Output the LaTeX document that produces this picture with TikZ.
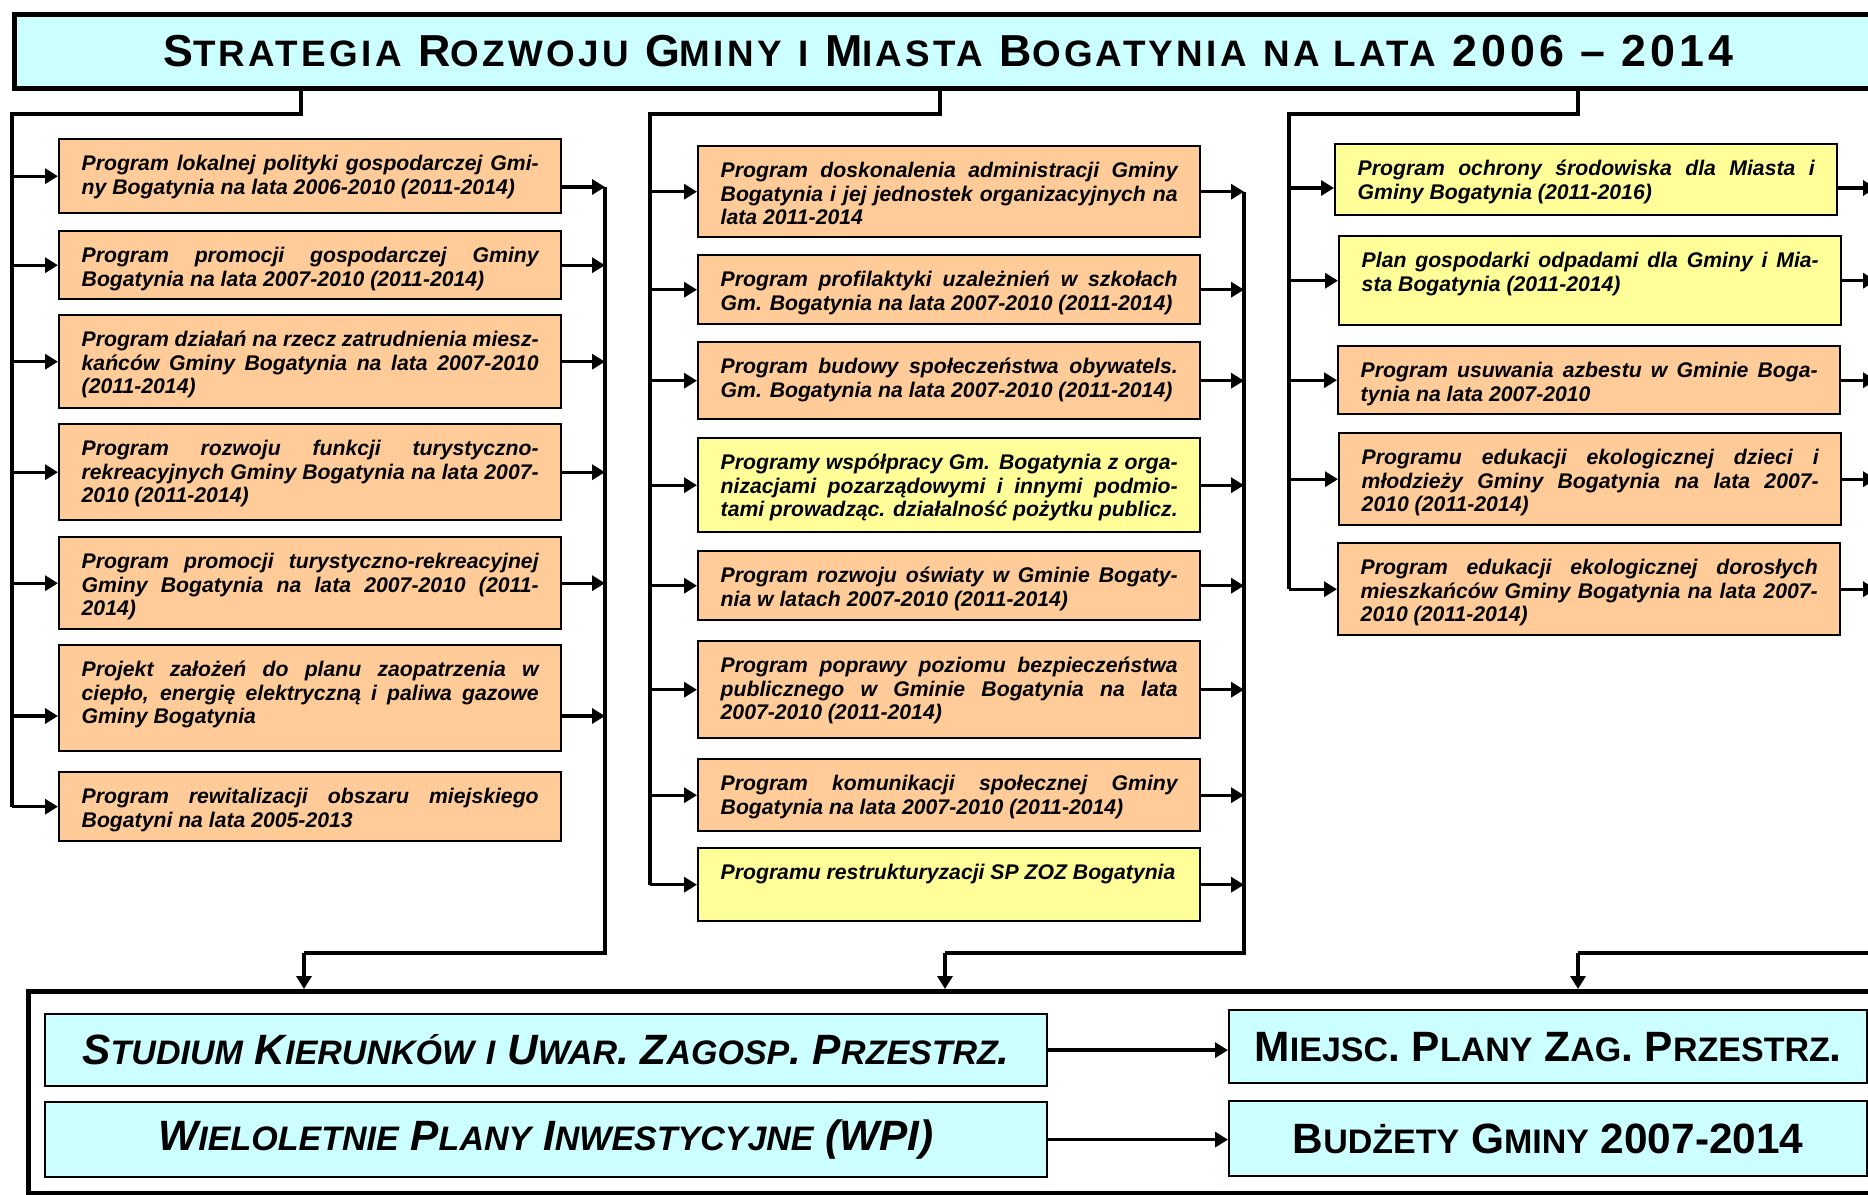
\documentclass[tikz,border=0pt]{standalone}
\usepackage{fontspec}
\setmainfont{Liberation Sans}
\newfontfamily\titlefont[LetterSpace=9]{Liberation Sans}
\usetikzlibrary{arrows.meta}

\definecolor{orangebox}{HTML}{FFCC99}
\definecolor{yellowbox}{HTML}{FFFF99}
\definecolor{cyanbox}{HTML}{CCFFFF}

\newcommand{\progfont}{\fontsize{10.6pt}{11.9pt}\selectfont\bfseries\itshape\tolerance=10000\hbadness=10000\relax}
\newcommand{\tsc}[1]{{\fontsize{18.4pt}{20pt}\selectfont #1}}
\newcommand{\bsc}[1]{{\fontsize{17pt}{20pt}\selectfont #1}}

\tikzset{
  prog/.style={draw, line width=1.2pt, fill=orangebox, anchor=north west, inner xsep=11.25pt, inner ysep=0pt, text width=228.5pt, align=justify, font=\progfont, text height=15.5pt},
  progy/.style={prog, fill=yellowbox},
  plan/.style={draw, line width=1.1pt, fill=cyanbox, anchor=north west, inner sep=0pt, font=\fontsize{21.2pt}{24pt}\selectfont\bfseries},
  bus/.style={line width=1.7pt},
  arr/.style={line width=1.7pt, -{Triangle[length=6.5pt,width=7.5pt]}},
}

\begin{document}
\begin{tikzpicture}[x=0.5pt,y=0.5pt,yscale=-1,xscale=1]
\useasboundingbox (0,0) rectangle (1868,1194);
\clip (0,0) rectangle (1868,1194);

% Title
\node[draw, line width=2.5pt, fill=cyanbox, anchor=north west, minimum width=934pt, minimum height=37pt, inner sep=0pt, font=\titlefont\fontsize{22.4pt}{24pt}\selectfont\bfseries] (title) at (12,12) {S\tsc{TRATEGIA} R\tsc{OZWOJU} G\tsc{MINY} \tsc{I} M\tsc{IASTA} B\tsc{OGATYNIA} \tsc{NA LATA} 2006 – 2014};

% Left column
\node[prog, text depth=21.5pt] (l1) at (58,138) {Program lokalnej polityki gospodarczej Gmi-\linebreak ny Bogatynia na lata 2006-2010 (2011-2014)};
\node[prog, text depth=18.5pt] (l2) at (58,230) {Program promocji gospodarczej Gminy\linebreak Bogatynia na lata 2007-2010 (2011-2014)};
\node[prog, text depth=31pt] (l3) at (58,314) {Program działań na rzecz zatrudnienia miesz-\linebreak kańców Gminy Bogatynia na lata 2007-2010\linebreak (2011-2014)};
\node[prog, text depth=32.5pt] (l4) at (58,423) {Program rozwoju funkcji turystyczno-\linebreak rekreacyjnych Gminy Bogatynia na lata 2007-\linebreak 2010 (2011-2014)};
\node[prog, text depth=30.5pt] (l5) at (58,536) {Program promocji turystyczno-rekreacyjnej\linebreak Gminy Bogatynia na lata 2007-2010 (2011-\linebreak 2014)};
\node[prog, text depth=37.5pt] (l6) at (58,644) {Projekt założeń do planu zaopatrzenia w\linebreak ciepło, energię elektryczną i paliwa gazowe\linebreak Gminy Bogatynia};
\node[prog, text depth=19pt] (l7) at (58,771) {Program rewitalizacji obszaru miejskiego\linebreak Bogatyni na lata 2005-2013};

% Middle column
\node[prog, text depth=30pt] (m1) at (697,145) {Program doskonalenia administracji Gminy\linebreak Bogatynia i jej jednostek organizacyjnych na\linebreak lata 2011-2014};
\node[prog, text depth=19pt] (m2) at (697,254) {Program profilaktyki uzależnień w szkołach\linebreak Gm. Bogatynia na lata 2007-2010 (2011-2014)};
\node[prog, text depth=23pt] (m3) at (697,341) {Program budowy społeczeństwa obywatels.\linebreak Gm. Bogatynia na lata 2007-2010 (2011-2014)};
\node[progy, text depth=31.5pt] (m4) at (697,437) {Programy współpracy Gm. Bogatynia z orga-\linebreak nizacjami pozarządowymi i innymi podmio-\linebreak tami prowadząc. działalność pożytku publicz.};
\node[prog, text depth=19pt] (m5) at (697,550) {Program rozwoju oświaty w Gminie Bogaty-\linebreak nia w latach 2007-2010 (2011-2014)};
\node[prog, text depth=33pt] (m6) at (697,640) {Program poprawy poziomu bezpieczeństwa\linebreak publicznego w Gminie Bogatynia na lata\linebreak 2007-2010 (2011-2014)};
\node[prog, text depth=20.5pt] (m7) at (697,758) {Program komunikacji społecznej Gminy\linebreak Bogatynia na lata 2007-2010 (2011-2014)};
\node[progy, text depth=21pt] (m8) at (697,847) {Programu restrukturyzacji SP ZOZ Bogatynia};

% Right column
\node[progy, text depth=20pt] (r1) at (1334,143) {Program ochrony środowiska dla Miasta i\linebreak Gminy Bogatynia (2011-2016)};
\node[progy, text depth=29pt] (r2) at (1338,235) {Plan gospodarki odpadami dla Gminy i Mia-\linebreak sta Bogatynia (2011-2014)};
\node[prog, text depth=18.5pt] (r3) at (1337,345) {Program usuwania azbestu w Gminie Boga-\linebreak tynia na lata 2007-2010};
\node[prog, text depth=30.5pt] (r4) at (1338,432) {Programu edukacji ekologicznej dzieci i\linebreak młodzieży Gminy Bogatynia na lata 2007-\linebreak 2010 (2011-2014)};
\node[prog, text depth=30.5pt] (r5) at (1337,542) {Program edukacji ekologicznej dorosłych\linebreak mieszkańców Gminy Bogatynia na lata 2007-\linebreak 2010 (2011-2014)};

% Bottom frame
\node[draw, line width=2.5pt, anchor=north west, minimum width=927pt, minimum height=101pt, inner sep=0pt] (frame) at (26,989) {};
\node[plan, font=\fontsize{21.2pt}{24pt}\selectfont\bfseries\itshape, minimum width=501pt, minimum height=36pt] (studium) at (44,1013) {S\bsc{TUDIUM} K\bsc{IERUNKÓW} \bsc{I} U\bsc{WAR}. Z\bsc{AGOSP}. P\bsc{RZESTRZ}.};
\node[plan, font=\fontsize{21.2pt}{24pt}\selectfont\bfseries\itshape, minimum width=501pt, minimum height=37.5pt] (wpi) at (44,1101) {W\bsc{IELOLETNIE} P\bsc{LANY} I\bsc{NWESTYCYJNE} (WPI)};
\node[plan, minimum width=319pt, minimum height=36.5pt] (miejsc) at (1228,1009) {M\bsc{IEJSC}. P\bsc{LANY} Z\bsc{AG}. P\bsc{RZESTRZ}.};
\node[plan, minimum width=319pt, minimum height=37.5pt] (budzety) at (1228,1100) {B\bsc{UDŻETY} G\bsc{MINY} 2007-2014};

% Bus coordinates
\coordinate (ltop) at (301,114);
\coordinate (lin) at (12,114);
\coordinate (lout) at (605,114);
\coordinate (lbot) at (304,953);
\coordinate (l1r) at (605,187);
\coordinate (l6l) at (12,716);
\coordinate (l6r) at (605,716);
\coordinate (mtop) at (940,114);
\coordinate (min) at (650,114);
\coordinate (mout) at (1244,114);
\coordinate (mbot) at (945,953);
\coordinate (rtop) at (1578,114);
\coordinate (rin) at (1289,114);
\coordinate (rout) at (1876,114);
\coordinate (rbot) at (1578,953);
\coordinate (r1l) at (1289,188);

% Left column connectors
\draw[bus] (title.south -| ltop) -- (ltop) -- (lin) -- (l7.west -| lin);
\foreach \n in {l1,l2,l3,l4,l5,l7}
  \draw[arr] (\n.west -| lin) -- (\n.west);
\draw[arr] (l6l) -- (l6l -| l6.west);
\draw[arr] (l1r -| l1.east) -- (l1r);
\foreach \n in {l2,l3,l4,l5}
  \draw[arr] (\n.east) -- (\n.east -| lout);
\draw[arr] (l6r -| l6.east) -- (l6r);
\draw[bus] (l1r) -- (lbot -| lout) -- (lbot);
\draw[arr] (lbot) -- (lbot |- frame.north);

% Middle column connectors
\draw[bus] (title.south -| mtop) -- (mtop) -- (min) -- (m8.west -| min);
\foreach \n in {m1,m2,m3,m4,m5,m6,m7,m8}{
  \draw[arr] (\n.west -| min) -- (\n.west);
  \draw[arr] (\n.east) -- (\n.east -| mout);
}
\draw[bus] (m1.east -| mout) -- (mbot -| mout) -- (mbot);
\draw[arr] (mbot) -- (mbot |- frame.north);

% Right column connectors
\draw[bus] (title.south -| rtop) -- (rtop) -- (rin) -- (r5.west -| rin);
\draw[arr] (r1l) -- (r1l -| r1.west);
\draw[arr] (r1l -| r1.east) -- (r1l -| rout);
\foreach \n in {r2,r3,r4,r5}{
  \draw[arr] (\n.west -| rin) -- (\n.west);
  \draw[arr] (\n.east) -- (\n.east -| rout);
}
\draw[bus] (r1l -| rout) -- (rbot -| rout) -- (rbot);
\draw[arr] (rbot) -- (rbot |- frame.north);

% Bottom connectors
\draw[arr] (studium.east) -- (studium.east -| miejsc.west);
\draw[arr] (wpi.east) -- (wpi.east -| budzety.west);

\end{tikzpicture}
\end{document}
